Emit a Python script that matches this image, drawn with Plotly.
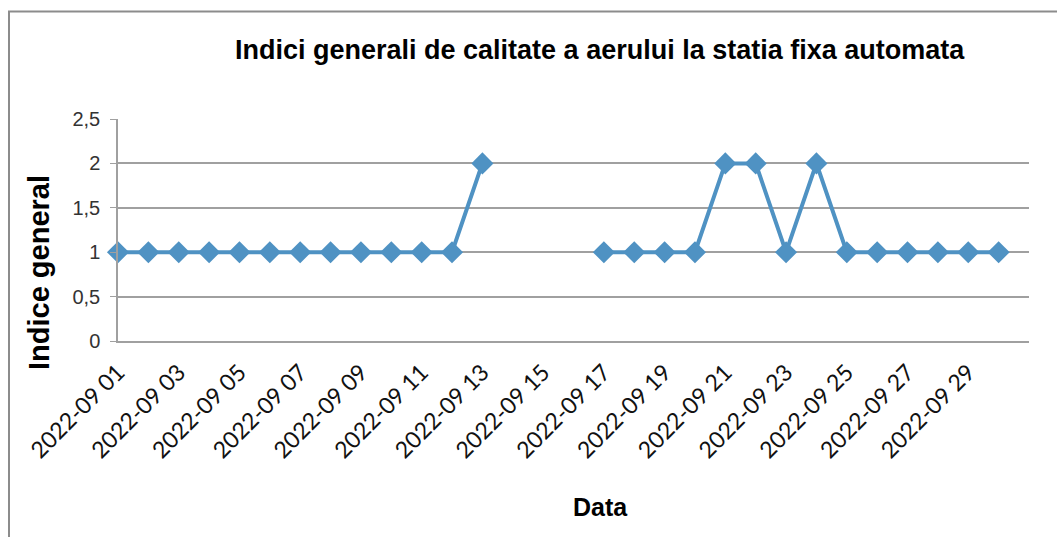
import plotly.graph_objects as go

# ---- data ----
dates = [f"2022-09-{d:02d}" for d in range(1, 31)]
tick_labels = [f"2022-09 {d:02d}" for d in range(1, 31, 2)]
indice_general = [1, 1, 1, 1, 1, 1, 1, 1, 1, 1, 1, 1, 2,
                  None, None, None,
                  1, 1, 1, 1, 2, 2, 1, 2, 1, 1, 1, 1, 1, 1]
y_ticks = [0, 0.5, 1, 1.5, 2, 2.5]

W, H = 1057, 537
L, R, T, B = 118, 28, 119, 196
pw, ph = W - L - R, H - T - B

def px_x(x):
    return (x - L) / pw

def px_y(y):
    return (H - B - y) / ph

fig = go.Figure()
fig.add_trace(go.Scatter(
    x=dates, y=indice_general, mode="lines+markers",
    line=dict(color="#4F92C3", width=4),
    marker=dict(symbol="diamond", size=17, color="#4F92C3"),
    connectgaps=False, showlegend=False, cliponaxis=False,
))

fig.update_layout(
    width=W, height=H,
    margin=dict(l=L, r=R, t=T, b=B),
    paper_bgcolor="white", plot_bgcolor="white",
    separators=",.",
    showlegend=False,
    xaxis=dict(
        type="category", range=[0, 30],
        tickmode="array", tickvals=dates[::2], ticktext=tick_labels,
        tickangle=-45, ticks="", showgrid=False,
        showline=True, linecolor="#A0A0A0", linewidth=1.5,
        tickfont=dict(family="Lato", size=23, color="#111111"),
        ticklabelstandoff=7,
        zeroline=False,
    ),
    yaxis=dict(
        range=[0, 2.5], tickvals=y_ticks,
        ticks="outside", ticklen=6, tickcolor="#A0A0A0",
        showgrid=True, gridcolor="#A0A0A0", gridwidth=1.5,
        showline=True, linecolor="#A0A0A0", linewidth=1.5,
        zeroline=False,
        tickfont=dict(family="Liberation Sans, Arial", size=20, color="#333333"),
        ticklabelstandoff=6,
    ),
    annotations=[
        dict(text="<b>Indici generali de calitate a aerului la statia fixa automata</b>",
             x=px_x(600), y=px_y(50), xref="paper", yref="paper",
             xanchor="center", yanchor="middle", showarrow=False,
             font=dict(family="Liberation Sans, Arial", size=27, color="#000000")),
        dict(text="<b>Indice general</b>",
             x=px_x(39), y=px_y(273), xref="paper", yref="paper",
             xanchor="center", yanchor="middle", showarrow=False, textangle=-90,
             font=dict(family="Liberation Sans, Arial", size=29, color="#000000")),
        dict(text="<b>Data</b>",
             x=px_x(600), y=px_y(507), xref="paper", yref="paper",
             xanchor="center", yanchor="middle", showarrow=False,
             font=dict(family="Liberation Sans, Arial", size=25, color="#000000")),
    ],
    shapes=[
        dict(type="rect", xref="paper", yref="paper",
             x0=px_x(9), x1=px_x(1070), y0=px_y(560), y1=px_y(11.5),
             line=dict(color="#8C8C8C", width=2), fillcolor="rgba(0,0,0,0)",
             layer="below"),
    ],
)

fig.write_html(
    "out.html",
    config={"displayModeBar": False},
    post_script="document.body.style.margin='0';document.body.style.overflow='hidden';",
)
